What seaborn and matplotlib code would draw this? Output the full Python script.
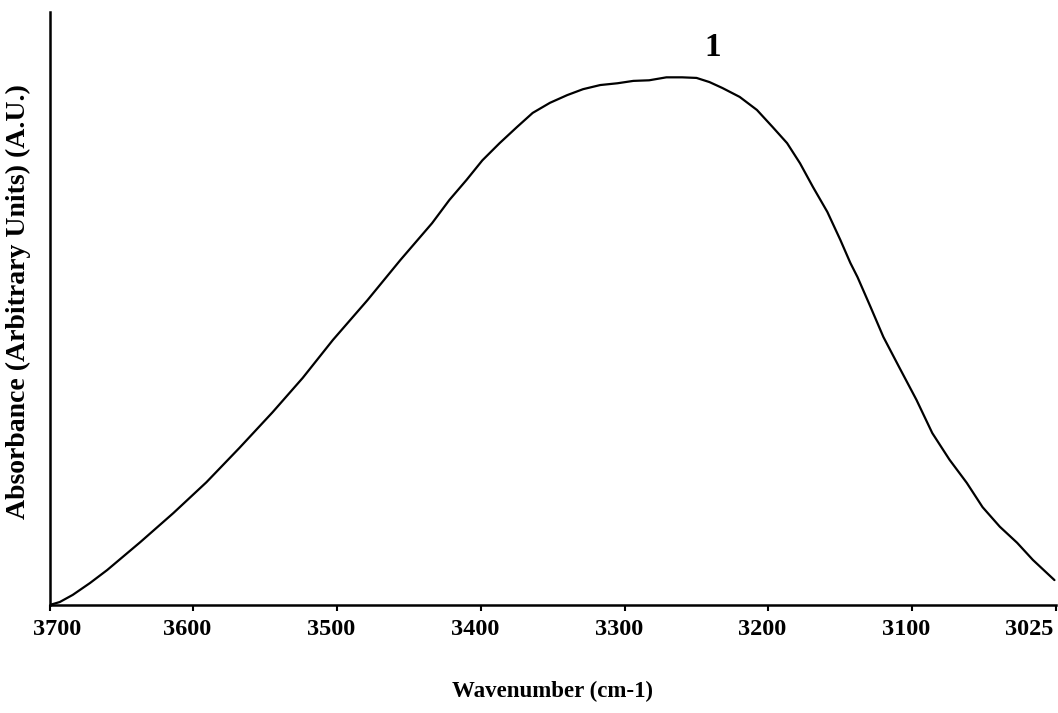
import matplotlib
matplotlib.use("Agg")
import matplotlib.pyplot as plt
import matplotlib.transforms as mtransforms
import seaborn as sns
import pandas as pd

# IR absorbance band (O-H / N-H stretching region), normalised units
wavenumber = [3700, 3693, 3684, 3672, 3660, 3637, 3614, 3591, 3568, 3545,
              3524, 3503, 3479, 3456, 3434, 3422, 3410, 3399, 3387, 3375,
              3364, 3352, 3340, 3329, 3317, 3305, 3294, 3283, 3271, 3260,
              3250, 3241, 3232, 3220, 3208, 3197, 3187, 3178, 3169, 3159,
              3150, 3143, 3138, 3129, 3120, 3109, 3097, 3086, 3074, 3062,
              3051, 3039, 3027, 3016, 3001]
absorbance = [0.000, 0.005, 0.017, 0.037, 0.059, 0.106, 0.155, 0.207, 0.265, 0.325,
              0.383, 0.447, 0.514, 0.582, 0.644, 0.683, 0.717, 0.750, 0.779, 0.806,
              0.830, 0.847, 0.860, 0.870, 0.877, 0.880, 0.884, 0.885, 0.890, 0.890,
              0.889, 0.882, 0.872, 0.857, 0.835, 0.806, 0.779, 0.745, 0.705, 0.663,
              0.616, 0.577, 0.553, 0.503, 0.452, 0.401, 0.346, 0.290, 0.245, 0.206,
              0.165, 0.132, 0.105, 0.076, 0.042]

tick_positions = [3700, 3600, 3500, 3400, 3300, 3200, 3100, 3000]
tick_labels = ["3700", "3600", "3500", "3400", "3300", "3200", "3100", "3025"]

peak_label = "1"
peak_label_pos = (3239, 0.94)

df = pd.DataFrame({"Wavenumber": wavenumber, "Absorbance": absorbance})

sns.set_theme(style="white")
plt.rcParams["font.family"] = ["Liberation Serif", "DejaVu Serif"]
plt.rcParams["font.weight"] = "bold"
plt.rcParams["text.color"] = "black"
plt.rcParams["axes.labelcolor"] = "black"
plt.rcParams["xtick.color"] = "black"
plt.rcParams["xtick.labelcolor"] = "black"

fig = plt.figure(figsize=(10.58, 7.13), dpi=100)
ax = fig.add_axes([0.047, 0.1515, 0.951, 0.8315])

sns.lineplot(data=df, x="Wavenumber", y="Absorbance", ax=ax,
             color="black", linewidth=1.6, sort=False)

ax.set_xlim(3700, 3000)
ax.set_ylim(0, 1)
ax.set_xticks(tick_positions)
ax.set_xticklabels(tick_labels, fontsize=17.5, fontweight="bold", color="black")
ax.set_yticks([])

ax.tick_params(axis="x", direction="out", length=4, width=1.5, color="black",
               labelcolor="black", pad=6, bottom=True)

# nudge tick labels slightly left of their ticks; keep the end labels inside
labels = ax.get_xticklabels()
for i, lab in enumerate(labels):
    if i == 0:
        lab.set_horizontalalignment("left")
        dx = -0.17
    elif i == len(labels) - 1:
        lab.set_horizontalalignment("right")
        dx = -0.03
    else:
        dx = -0.06
    lab.set_transform(lab.get_transform() +
                      mtransforms.ScaledTranslation(dx, 0, fig.dpi_scale_trans))

for side in ("top", "right"):
    ax.spines[side].set_visible(False)
for side in ("left", "bottom"):
    ax.spines[side].set_visible(True)
    ax.spines[side].set_color("black")
    ax.spines[side].set_linewidth(1.8)

ax.set_xlabel("Wavenumber (cm-1)", fontsize=16.5, fontweight="bold", color="black")
ax.xaxis.set_label_coords(0.5, -0.128)
ax.set_ylabel("Absorbance (Arbitrary Units) (A.U.)", fontsize=20, fontweight="bold",
              color="black")
ax.yaxis.set_label_coords(-0.019, 0.511)

ax.text(peak_label_pos[0], peak_label_pos[1], peak_label, fontsize=24,
        fontweight="bold", ha="center", va="center", color="black")

fig.savefig("out.png", dpi=100, facecolor="white")
